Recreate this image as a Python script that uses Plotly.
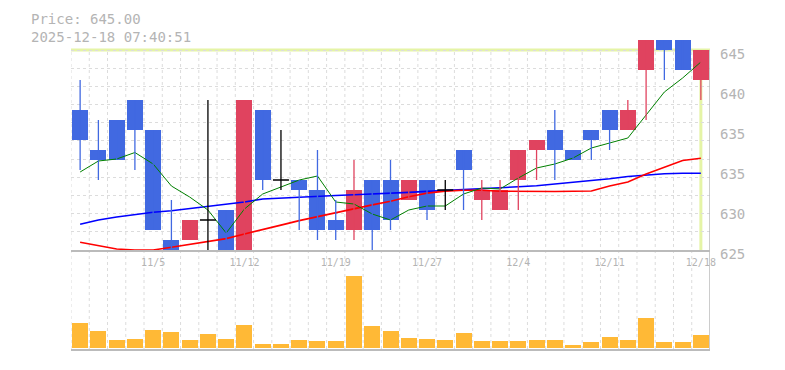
import plotly.graph_objects as go

# ---------------- data ----------------
dates = ["10/29", "10/30", "10/31", "11/4", "11/5", "11/6", "11/7", "11/10", "11/11", "11/12",
         "11/13", "11/14", "11/17", "11/18", "11/19", "11/20", "11/21", "11/25", "11/26", "11/27",
         "11/28", "12/1", "12/2", "12/3", "12/4", "12/5", "12/8", "12/9", "12/10", "12/11",
         "12/12", "12/15", "12/16", "12/17", "12/18"]
opens = [639, 635, 638, 640, 637, 626, 626, 628, 629, 625,
         639, 632, 632, 631, 628, 627, 632, 632, 630, 632,
         631, 635, 630, 629, 632, 635, 637, 635, 637, 639,
         637, 643, 647, 648, 642]
highs = [642, 638, 638, 640, 637, 630, 628, 640, 629, 640,
         639, 637, 632, 635, 630, 634, 632, 634, 632, 632,
         632, 635, 632, 632, 635, 636, 639, 635, 637, 639,
         640, 647, 647, 648, 645]
lows = [633, 632, 634, 633, 627, 625, 626, 625, 625, 625,
        631, 631, 627, 626, 626, 626, 625, 627, 630, 628,
        629, 629, 628, 629, 629, 632, 632, 634, 634, 635,
        637, 638, 642, 643, 640]
closes = [636, 634, 634, 637, 627, 625, 628, 628, 625, 640,
          632, 632, 631, 627, 627, 631, 627, 628, 632, 629,
          631, 633, 631, 631, 635, 636, 635, 634, 636, 637,
          639, 647, 645, 643, 645]
volumes = [24300, 16300, 7300, 8300, 17300, 15300, 7300, 13300, 8300, 22300,
           3300, 3300, 7300, 6300, 6300, 71300, 21300, 16300, 9300, 8300,
           7300, 14300, 6300, 6300, 6300, 7300, 7300, 2300, 5300, 10300,
           7300, 29300, 5300, 5300, 12300]
ma_short = [632.8, 633.9, 634.1, 634.75, 633.6, 631.4, 630.3, 629.0, 626.7, 629.1,
            630.6, 631.3, 632.0, 632.4, 629.8, 629.6, 628.6, 628.0, 629.0, 629.4,
            629.4, 630.6, 631.2, 631.1, 632.2, 633.2, 633.6, 634.2, 635.2, 635.7,
            636.2, 638.5, 640.8, 642.2, 643.8]
ma_mid = [627.57, 628.0, 628.3, 628.55, 628.78, 628.93, 629.13, 629.36, 629.55, 629.8,
          630.1, 630.2, 630.28, 630.35, 630.45, 630.52, 630.58, 630.68, 630.76, 630.86,
          630.95, 631.03, 631.08, 631.17, 631.32, 631.43, 631.6, 631.75, 631.95, 632.13,
          632.35, 632.5, 632.62, 632.67, 632.67]
ma_long = [625.77, 625.4, 625.1, 625.0, 625.0, 625.28, 625.59, 625.83, 626.14, 626.61,
           627.08, 627.49, 627.94, 628.35, 628.73, 629.1, 629.51, 629.88, 630.33, 630.69,
           630.89, 630.98, 630.97, 630.88, 630.85, 630.85, 630.85, 630.87, 630.9, 631.4,
           631.8, 632.6, 633.3, 633.95, 634.17]
x_tick_labels = ["11/5", "11/12", "11/19", "11/27", "12/4", "12/11", "12/18"]
y_tick_values = [625, 629, 633, 637, 641, 645]
y_tick_text = ["625", "630", "635", "635", "640", "645"]
title_lines = ["Price: 645.00", "2025-12-18 07:40:51"]

# ---------------- style / layout constants ----------------
W, H = 785, 370
ML, MR, MT, MB = 71, 75, 40, 21
PLOT_H = H - MT - MB
UP = "#E0435F"
DOWN = "#4169E1"
DOJI = "#000000"
GRID = "#dcdcdc"
AXIS = "#bbbbbb"
TXT = "#b4b4b4"
PRICE_LINE = "#E5F4A6"
VOL = "#FFB936"
MONO = "DejaVu Sans Mono"


def py(ypx):
    return (H - MB - ypx) / PLOT_H


def px_x(xpx):
    return (xpx - ML) / (W - ML - MR)


n = len(dates)
idx = list(range(n))
BW = 0.876

fig = go.Figure()

# moving averages (drawn below candles)
fig.add_trace(go.Scatter(x=idx, y=ma_mid, mode="lines", line=dict(color="#0000FF", width=1.6),
                         hoverinfo="skip"))
fig.add_trace(go.Scatter(x=idx, y=ma_long, mode="lines", line=dict(color="#FF0000", width=1.6),
                         hoverinfo="skip"))
fig.add_trace(go.Scatter(x=idx, y=ma_short, mode="lines", line=dict(color="#008000", width=1),
                         hoverinfo="skip"))

# wicks
for col, cond in [(UP, lambda o, c: c > o), (DOWN, lambda o, c: c < o), (DOJI, lambda o, c: c == o)]:
    wx, wy = [], []
    for i in idx:
        if cond(opens[i], closes[i]):
            wx += [i, i, None]
            wy += [lows[i], highs[i], None]
    fig.add_trace(go.Scatter(x=wx, y=wy, mode="lines", line=dict(color=col, width=1.3),
                             hoverinfo="skip"))

# bodies
bx, bbase, bh, bcol = [], [], [], []
for i in idx:
    if opens[i] != closes[i]:
        bx.append(i)
        bbase.append(min(opens[i], closes[i]))
        bh.append(abs(closes[i] - opens[i]))
        bcol.append(UP if closes[i] > opens[i] else DOWN)
fig.add_trace(go.Bar(x=bx, y=bh, base=bbase, width=BW, marker=dict(color=bcol, line=dict(width=0)),
                     hoverinfo="skip"))

# doji crosses
dx, dy = [], []
for i in idx:
    if opens[i] == closes[i]:
        dx += [i - BW / 2, i + BW / 2, None]
        dy += [opens[i], opens[i], None]
fig.add_trace(go.Scatter(x=dx, y=dy, mode="lines", line=dict(color=DOJI, width=1.5), hoverinfo="skip"))

# volume
fig.add_trace(go.Bar(x=idx, y=volumes, width=BW, marker=dict(color=VOL, line=dict(width=0)),
                     xaxis="x2", yaxis="y2", hoverinfo="skip"))

# ---------------- shapes ----------------
shapes = []
for k in range(n):
    shapes.append(dict(type="line", xref="x", yref="paper", x0=k - 0.5, x1=k - 0.5,
                       y0=py(349), y1=py(50), line=dict(color=GRID, width=1, dash="3px,3px"),
                       layer="below"))
last = n - 1
shapes.append(dict(type="line", xref="x", yref="y", x0=-0.5, x1=n - 0.5, y0=closes[last], y1=closes[last],
                   line=dict(color=PRICE_LINE, width=3), layer="below"))
shapes.append(dict(type="line", xref="x", yref="y", x0=last, x1=last, y0=y_tick_values[0], y1=closes[last],
                   line=dict(color=PRICE_LINE, width=3), layer="below"))
shapes.append(dict(type="line", xref="x", yref="paper", x0=n - 0.5, x1=n - 0.5, y0=py(349), y1=py(50),
                   line=dict(color=AXIS, width=1.5), layer="above"))

annotations = [dict(text="<br>".join(title_lines), xref="paper", yref="paper", x=px_x(29), y=py(9),
                    xanchor="left", yanchor="top", align="left", showarrow=False,
                    font=dict(family=MONO, size=14, color=TXT))]

price_dom = [py(250), 1]
vol_dom = [0, py(252)]
vol_px = 349 - 252

fig.update_layout(
    width=W, height=H,
    margin=dict(l=ML, r=MR, t=MT, b=MB, autoexpand=False),
    paper_bgcolor="white", plot_bgcolor="white",
    showlegend=False, barmode="overlay", bargap=0,
    shapes=shapes, annotations=annotations,
    xaxis=dict(range=[-0.5, n - 0.5], domain=[0, 1], anchor="y", automargin=False,
               tickmode="array", tickvals=[dates.index(d) for d in x_tick_labels], ticktext=x_tick_labels,
               ticks="", showgrid=False, zeroline=False,
               showline=True, linecolor=AXIS, linewidth=1.5, ticklabelstandoff=2,
               tickfont=dict(family=MONO, size=10, color=TXT)),
    yaxis=dict(range=[625, 646], domain=price_dom, side="right", anchor="x", automargin=False,
               tickmode="array", tickvals=y_tick_values, ticktext=y_tick_text,
               ticks="", showgrid=False, zeroline=False, showline=False,
               ticklabelstandoff=9, ticklabelshift=4,
               tickfont=dict(family=MONO, size=14, color=TXT),
               minor=dict(tick0=625, dtick=20 / 11, showgrid=True, gridcolor=GRID,
                          griddash="3px,3px", gridwidth=1, ticks="")),
    xaxis2=dict(range=[-0.5, n - 0.5], domain=[0, 1], anchor="y2", matches="x", automargin=False,
                showticklabels=False, ticks="", showgrid=False, zeroline=False,
                showline=True, linecolor=AXIS, linewidth=1.5),
    yaxis2=dict(range=[-1500, (vol_px - 1.5) * 1000], domain=vol_dom, anchor="x2", automargin=False,
                showticklabels=False, ticks="", showgrid=False, zeroline=False, showline=False),
)

fig.write_html("out.html")
